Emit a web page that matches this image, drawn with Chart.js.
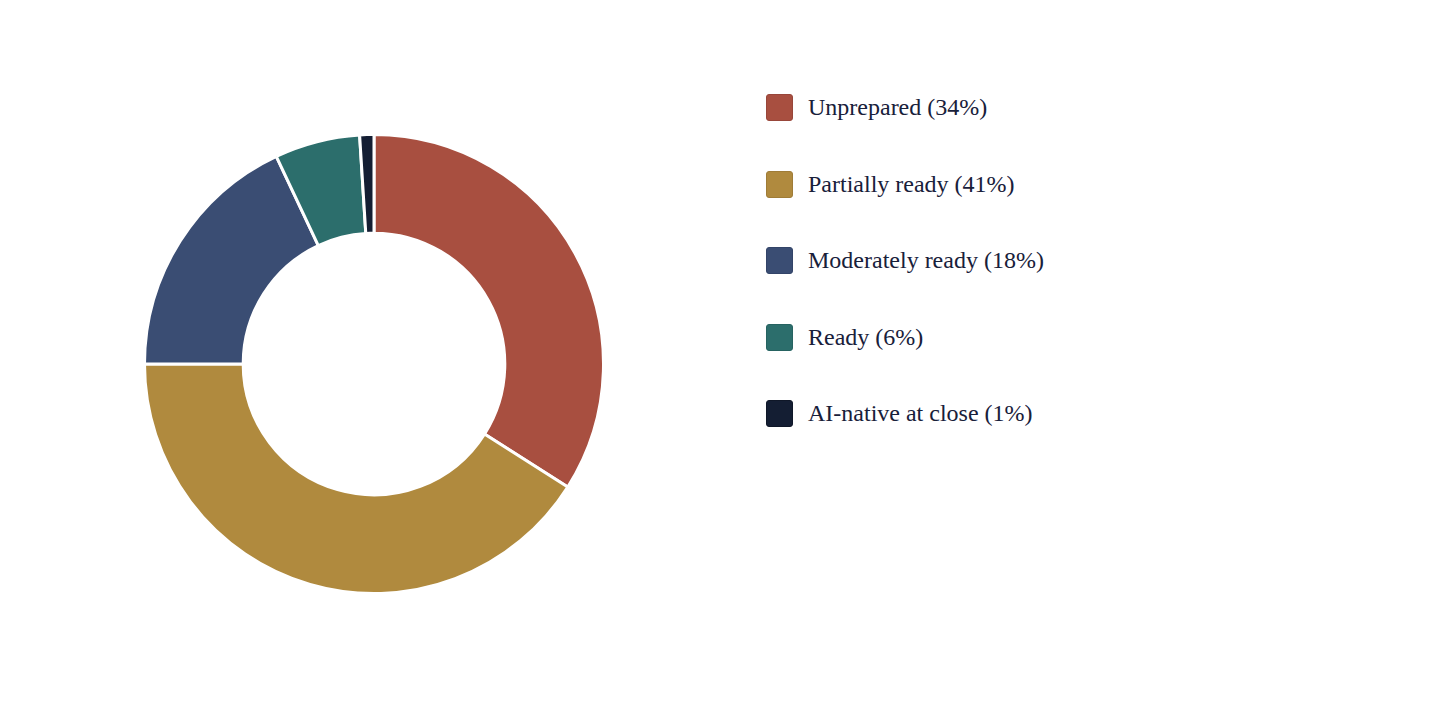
<!DOCTYPE html>
<html><head><meta charset="utf-8">
<script src="https://cdn.jsdelivr.net/npm/chart.js@4.4.0/dist/chart.umd.min.js"></script>
<style>
html,body{margin:0;padding:0;background:#fff;width:1456px;height:728px;overflow:hidden;}
#wrap{position:absolute;left:143px;top:133px;width:462px;height:462px;}
#legend{position:absolute;left:766px;top:94px;font-family:"Liberation Serif","Times New Roman",serif;font-size:24px;color:#18203a;}
.item{display:flex;align-items:center;height:27px;margin-bottom:49.5px;}
.box{width:25px;height:25px;border-radius:3px;border:1px solid;margin-right:15px;box-sizing:content-box;}
</style></head>
<body>
<div id="wrap"><canvas id="c"></canvas></div>
<div id="legend"></div>
<script>
const categories = ["Unprepared", "Partially ready", "Moderately ready", "Ready", "AI-native at close"];
const values = [34, 41, 18, 6, 1];
const colors = ["#a84f40", "#b08a3e", "#3a4d73", "#2c6e6c", "#141e33"];
const borderColors = ["#98463a", "#9f7c37", "#334468", "#266361", "#0f1728"];

new Chart(document.getElementById('c'), {
  type: 'doughnut',
  data: {
    labels: categories,
    datasets: [{ data: values, backgroundColor: colors, borderColor: '#ffffff', borderWidth: 3 }]
  },
  options: {
    responsive: true, maintainAspectRatio: false, animation: false,
    cutout: '57%',
    layout: { padding: 0 },
    plugins: { legend: { display: false }, tooltip: { enabled: false } }
  }
});

const leg = document.getElementById('legend');
categories.forEach((c, i) => {
  const it = document.createElement('div'); it.className = 'item';
  const b = document.createElement('div'); b.className = 'box';
  b.style.background = colors[i]; b.style.borderColor = borderColors[i];
  const t = document.createElement('span'); t.textContent = c + ' (' + values[i] + '%)';
  it.appendChild(b); it.appendChild(t); leg.appendChild(it);
});
</script>
</body></html>
